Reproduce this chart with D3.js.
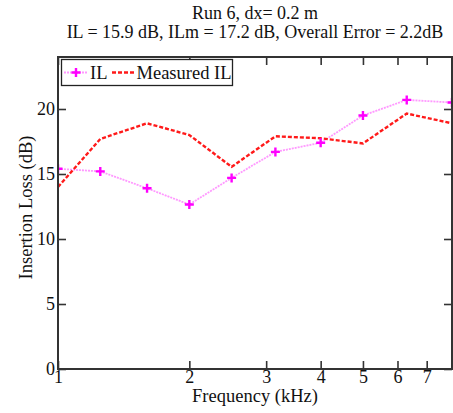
<!DOCTYPE html>
<html><head><meta charset="utf-8">
<script src="https://cdn.jsdelivr.net/npm/d3@7"></script>
<style>body{margin:0;background:#fff}svg{display:block}text{font-family:"Liberation Serif","Times New Roman",serif;fill:#111}</style>
</head><body>
<script>
const freqs = [1, 1.25, 1.6, 2, 2.5, 3.15, 4, 5, 6.3, 8];
const ilValues = [15.4, 15.2, 13.9, 12.65, 14.7, 16.7, 17.4, 19.5, 20.7, 20.5];
const measuredValues = [14.0, 17.7, 18.9, 18.0, 15.55, 17.9, 17.75, 17.35, 19.65, 18.9];
const xTicks = [1, 2, 3, 4, 5, 6, 7];
const yTicks = [0, 5, 10, 15, 20];
const titleLines = ["Run 6, dx= 0.2 m", "IL = 15.9 dB, ILm = 17.2 dB, Overall Error = 2.2dB"];
const seriesNames = ["IL", "Measured IL"];

const W = 453, H = 413;
const m = {left: 58, right: 1, top: 57, bottom: 44};
const FS = "18.5px";
const svg = d3.select("body").append("svg").attr("width", W).attr("height", H);
const x = d3.scaleLog().domain([1, 8]).range([m.left, W - m.right]);
const y = d3.scaleLinear().domain([0, 24]).range([H - m.bottom, m.top]);

svg.append("clipPath").attr("id", "clip").append("rect")
  .attr("x", m.left).attr("y", m.top).attr("width", W - m.right - m.left).attr("height", H - m.bottom - m.top);

const g = svg.append("g").attr("clip-path", "url(#clip)");
const line = d3.line().x((d, i) => x(freqs[i])).y(d => y(d));

g.append("path").datum(ilValues).attr("d", line)
  .attr("fill", "none").attr("stroke", "#ff99ff").attr("stroke-width", 1.8).attr("stroke-dasharray", "2,1");
g.append("path").datum(measuredValues).attr("d", line)
  .attr("fill", "none").attr("stroke", "#ff1a1a").attr("stroke-width", 2.4).attr("stroke-dasharray", "4,2");

const plus = (sel, cx, cy, s) => {
  sel.append("path").attr("d", `M${cx - s},${cy}H${cx + s}M${cx},${cy - s}V${cy + s}`)
    .attr("stroke", "#ff00ff").attr("stroke-width", 2.4).attr("fill", "none");
};
ilValues.forEach((v, i) => plus(g, x(freqs[i]), y(v), 4.5));

// axes
const axStyle = a => a.call(s => s.select(".domain").remove())
  .call(s => s.selectAll(".tick line").attr("stroke", "#333").attr("stroke-width", 1.6))
  .call(s => s.selectAll("text").style("font-family", '"Liberation Serif",serif').style("font-size", "18px").attr("fill", "#111"));

svg.append("g").attr("transform", `translate(0,${H - m.bottom})`)
  .call(d3.axisBottom(x).tickValues(xTicks).tickFormat(d3.format("d")).tickSizeInner(-8).tickPadding(1)).call(axStyle);
svg.append("g").attr("transform", `translate(0,${m.top})`)
  .call(d3.axisTop(x).tickValues(xTicks).tickFormat("").tickSizeInner(-8)).call(axStyle);
svg.append("g").attr("transform", `translate(${m.left},0)`)
  .call(d3.axisLeft(y).tickValues(yTicks).tickSizeInner(-8).tickPadding(3)).call(axStyle);
svg.append("g").attr("transform", `translate(${W - m.right},0)`)
  .call(d3.axisRight(y).tickValues(yTicks).tickFormat("").tickSizeInner(-8)).call(axStyle);

svg.append("rect").attr("x", m.left).attr("y", m.top)
  .attr("width", W - m.right - m.left).attr("height", H - m.bottom - m.top)
  .attr("fill", "none").attr("stroke", "#333").attr("stroke-width", 2);

// titles
titleLines.forEach((t, i) => svg.append("text").attr("x", 255).attr("y", 18.5 + i * 19.5)
  .attr("text-anchor", "middle").style("font-size", "18px").text(t));
svg.append("text").attr("x", 255).attr("y", 402).attr("text-anchor", "middle")
  .style("font-size", FS).text("Frequency (kHz)");
svg.append("text").attr("transform", `translate(32,207.5) rotate(-90)`)
  .attr("text-anchor", "middle").style("font-size", FS).text("Insertion Loss (dB)");

// legend
const lg = svg.append("g");
lg.append("rect").attr("x", 61.5).attr("y", 59.5).attr("width", 171).attr("height", 26)
  .attr("fill", "#fff").attr("stroke", "#222").attr("stroke-width", 1.3);
lg.append("line").attr("x1", 64).attr("x2", 87).attr("y1", 72.5).attr("y2", 72.5)
  .attr("stroke", "#ff99ff").attr("stroke-width", 1.8).attr("stroke-dasharray", "2,1");
plus(lg, 76, 72.5, 4.5);
lg.append("text").attr("x", 90).attr("y", 79).style("font-size", FS).text(seriesNames[0]);
lg.append("line").attr("x1", 112).attr("x2", 135).attr("y1", 72.5).attr("y2", 72.5)
  .attr("stroke", "#ff1a1a").attr("stroke-width", 2.4).attr("stroke-dasharray", "4,2");
lg.append("text").attr("x", 136.5).attr("y", 79).style("font-size", FS).text(seriesNames[1]);
</script>
</body></html>
